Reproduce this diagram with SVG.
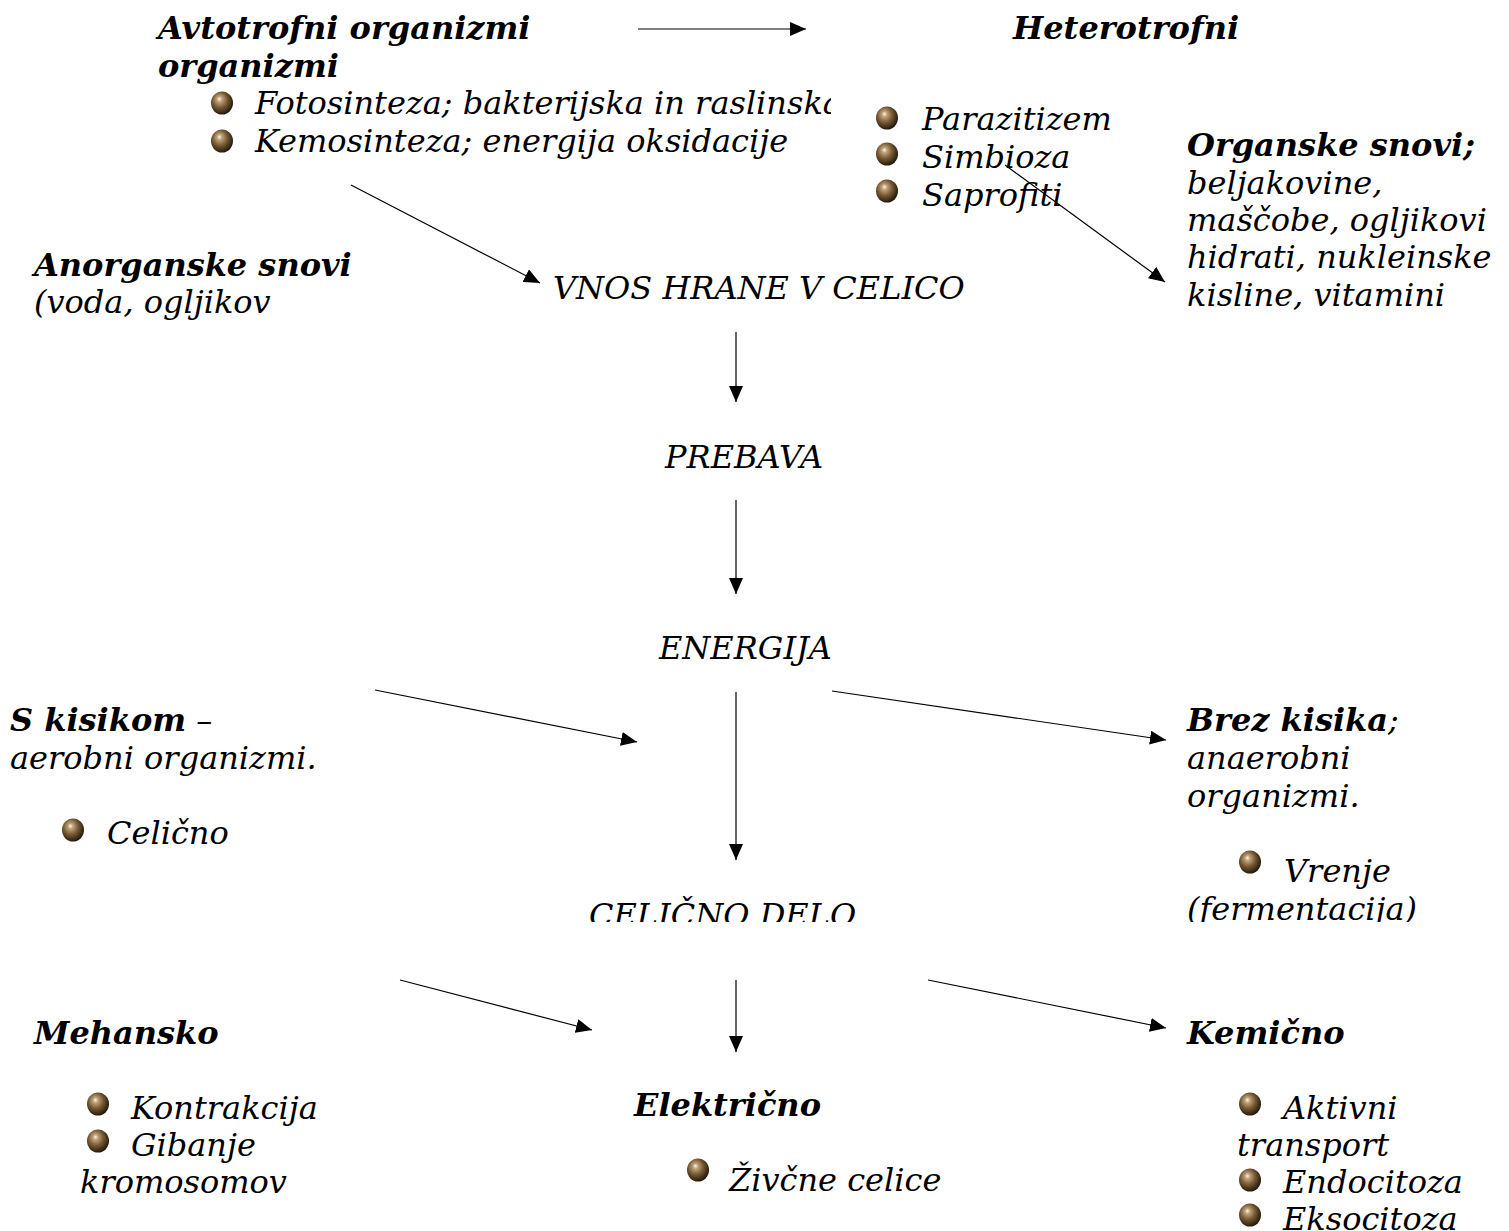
<svg xmlns="http://www.w3.org/2000/svg" width="1509" height="1231" viewBox="0 0 1509 1231">
<style>
text{font-family:"DejaVu Serif",serif;font-style:italic;font-size:32px;fill:#000}
.b{font-weight:bold}
.c{stroke:#000;stroke-width:1.2;fill:none;marker-end:url(#ah)}
</style>
<defs>
<marker id="ah" markerUnits="userSpaceOnUse" markerWidth="18" markerHeight="14" refX="16" refY="7" orient="auto">
<path d="M0,0 L16,7 L0,14 Z" fill="#000"/>
</marker>
<radialGradient id="ball" cx="0.42" cy="0.4" r="0.62" fx="0.38" fy="0.32">
<stop offset="0" stop-color="#fffaf0"/>
<stop offset="0.18" stop-color="#c2a57a"/>
<stop offset="0.55" stop-color="#755833"/>
<stop offset="1" stop-color="#1f1608"/>
</radialGradient>
<symbol id="bul" overflow="visible"><ellipse cx="0" cy="0" rx="11" ry="11.5" fill="url(#ball)"/></symbol>
<clipPath id="clipFoto"><rect x="0" y="0" width="831" height="1231"/></clipPath>
<clipPath id="clipRow"><rect x="0" y="0" width="1509" height="922"/></clipPath>
</defs>
<rect width="1509" height="1231" fill="#fff"/>

<g id="connectors">
<line class="c" x1="638" y1="29" x2="806" y2="29"/>
<line class="c" x1="351" y1="185" x2="540" y2="283"/>
<line class="c" x1="1005" y1="165" x2="1165" y2="282"/>
<line class="c" x1="736" y1="332" x2="736" y2="402"/>
<line class="c" x1="736" y1="500" x2="736" y2="594"/>
<line class="c" x1="375" y1="690" x2="637" y2="742"/>
<line class="c" x1="736" y1="692" x2="736" y2="860"/>
<line class="c" x1="832" y1="691" x2="1166" y2="740"/>
<line class="c" x1="400" y1="980" x2="592" y2="1030"/>
<line class="c" x1="736" y1="980" x2="736" y2="1052"/>
<line class="c" x1="928" y1="980" x2="1166" y2="1028"/>
</g>

<g id="avtotrofni">
<text class="b" x="158" y="39">Avtotrofni organizmi</text>
<text class="b" x="158" y="77">organizmi</text>
<use href="#bul" x="222" y="103"/>
<text x="255" y="114" clip-path="url(#clipFoto)">Fotosinteza; bakterijska in raslinska</text>
<use href="#bul" x="222" y="141"/>
<text x="255" y="152">Kemosinteza; energija oksidacije</text>
</g>

<g id="heterotrofni">
<text class="b" x="1013" y="39">Heterotrofni</text>
<use href="#bul" x="887" y="118"/>
<text x="922" y="130">Parazitizem</text>
<use href="#bul" x="887" y="154"/>
<text x="922" y="168">Simbioza</text>
<use href="#bul" x="887" y="191"/>
<text x="922" y="206">Saprofiti</text>
</g>

<g id="organske">
<text class="b" x="1187" y="156">Organske snovi;</text>
<text x="1187" y="194">beljakovine,</text>
<text x="1187" y="231">maščobe, ogljikovi</text>
<text x="1187" y="268">hidrati, nukleinske</text>
<text x="1187" y="306">kisline, vitamini</text>
</g>

<g id="anorganske">
<text class="b" x="34" y="276">Anorganske snovi</text>
<text x="34" y="313">(voda, ogljikov</text>
</g>

<g id="vnos"><text x="553" y="299">VNOS HRANE V CELICO</text></g>
<g id="prebava"><text x="665" y="468">PREBAVA</text></g>
<g id="energija"><text x="659" y="659">ENERGIJA</text></g>

<g id="skisikom">
<text x="10" y="731"><tspan class="b">S kisikom</tspan> –</text>
<text x="10" y="769">aerobni organizmi.</text>
<use href="#bul" x="73" y="830"/>
<text x="107" y="844">Celično</text>
</g>

<g id="brezkisika">
<text x="1187" y="731"><tspan class="b">Brez kisika</tspan>;</text>
<text x="1187" y="769">anaerobni</text>
<text x="1187" y="807">organizmi.</text>
<use href="#bul" x="1250" y="862"/>
<text x="1284" y="882">Vrenje</text>
<text x="1187" y="920" clip-path="url(#clipRow)">(fermentacija)</text>
</g>

<g id="celicnodelo"><text x="589" y="926" clip-path="url(#clipRow)">CELIČNO DELO</text></g>

<g id="mehansko">
<text class="b" x="34" y="1044">Mehansko</text>
<use href="#bul" x="98" y="1104"/>
<text x="131" y="1119">Kontrakcija</text>
<use href="#bul" x="98" y="1141"/>
<text x="131" y="1156">Gibanje</text>
<text x="80" y="1193">kromosomov</text>
</g>

<g id="elektricno">
<text class="b" x="634" y="1116">Električno</text>
<use href="#bul" x="698" y="1170"/>
<text x="729" y="1191">Živčne celice</text>
</g>

<g id="kemicno">
<text class="b" x="1187" y="1044">Kemično</text>
<use href="#bul" x="1250" y="1104"/>
<text x="1283" y="1119">Aktivni</text>
<text x="1237" y="1156">transport</text>
<use href="#bul" x="1250" y="1180"/>
<text x="1283" y="1193">Endocitoza</text>
<use href="#bul" x="1250" y="1215"/>
<text x="1283" y="1230">Eksocitoza</text>
</g>
</svg>
